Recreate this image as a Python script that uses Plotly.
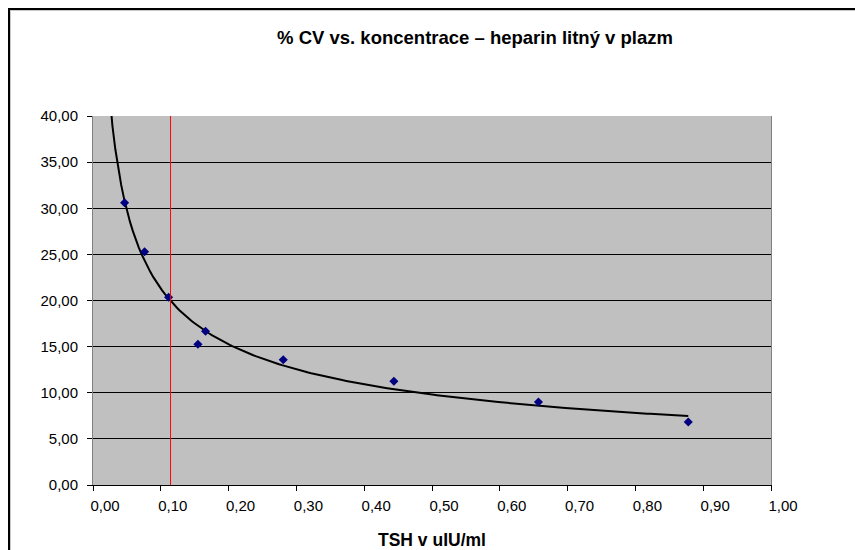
import numpy as np
import plotly.graph_objects as go

# data
tsh = [0.0466, 0.0761, 0.1115, 0.1548, 0.166, 0.2806, 0.4438, 0.657, 0.878]
cv = [30.60, 25.29, 20.35, 15.25, 16.66, 13.58, 11.24, 9.00, 6.83]
cutoff_x = [0.1144]
x_ticks = [0.0, 0.1, 0.2, 0.3, 0.4, 0.5, 0.6, 0.7, 0.8, 0.9, 1.0]
y_ticks = [0, 5, 10, 15, 20, 25, 30, 35, 40]
title_text = "% CV vs. koncentrace – heparin litný v plazm"
x_title = "TSH v uIU/ml"

# power trendline (as in Excel): fit in log-log space
b, ln_a = np.polyfit(np.log(tsh), np.log(cv), 1)
xs = np.linspace(0.02, max(tsh), 200)
ys = np.exp(ln_a) * xs ** b

FONT = "Liberation Sans, Arial, sans-serif"
W, H = 855, 550
L, R, T, B = 93, 84, 116, 65
pw = W - L - R
ph = H - T - B


def px_x(p):
    return (p - L) / pw


def px_y(p):
    return (H - B - p) / ph


fig = go.Figure()
fig.add_trace(go.Scatter(x=xs, y=ys, mode="lines",
                         line=dict(color="black", width=2), hoverinfo="skip"))
fig.add_trace(go.Scatter(x=tsh, y=cv, mode="markers",
                         marker=dict(symbol="diamond", size=7, color="#000080")))

fig.add_shape(type="line", xref="x", yref="y", x0=cutoff_x[0], x1=cutoff_x[0],
              y0=y_ticks[0], y1=y_ticks[-1], line=dict(color="red", width=1))

# outer chart border (extends beyond the picture on the right / bottom)
fig.add_shape(type="line", xref="paper", yref="paper",
              x0=px_x(8), x1=px_x(855), y0=px_y(9), y1=px_y(9),
              line=dict(color="black", width=2), layer="above")
fig.add_shape(type="line", xref="paper", yref="paper",
              x0=px_x(9), x1=px_x(9), y0=px_y(8), y1=px_y(550),
              line=dict(color="black", width=2), layer="above")

fig.add_annotation(text="<b>" + x_title + "</b>", xref="paper", yref="paper",
                   x=0.5, y=px_y(540), xanchor="center", yanchor="middle",
                   showarrow=False, font=dict(size=17.5, family=FONT, color="black"))

fig.update_layout(
    width=W, height=H,
    margin=dict(l=L, r=R, t=T, b=B, autoexpand=False),
    paper_bgcolor="white", plot_bgcolor="#C0C0C0",
    showlegend=False,
    separators=", ",
    font=dict(family=FONT, color="black"),
    title=dict(text="<b>" + title_text + "</b>", x=px_x(475), xref="paper",
               xanchor="center", y=1 - 38 / H, yref="container", yanchor="middle",
               font=dict(size=18.5, family=FONT, color="black")),
)
fig.update_xaxes(range=[0, 1], tickvals=x_ticks, tickformat=".2f", automargin=False,
                 showgrid=False, zeroline=False,
                 showline=True, linecolor="black", linewidth=1,
                 ticks="outside", ticklen=5, tickcolor="black",
                 tickfont=dict(size=15), ticklabelshift=12, ticklabelstandoff=2)
fig.update_yaxes(range=[0, 40], tickvals=y_ticks, tickformat=".2f", automargin=False,
                 showgrid=True, gridcolor="black", gridwidth=1, zeroline=False,
                 showline=True, linecolor="#808080", linewidth=1, mirror=True,
                 ticks="outside", ticklen=5, tickcolor="black",
                 tickfont=dict(size=15), ticklabelstandoff=6)

post = (
    "document.body.style.margin='0';document.body.style.overflow='hidden';"
    "var d=document.createElement('div');"
    "d.style.cssText='position:absolute;left:8px;top:8px;width:900px;height:600px;"
    "border-top:2px solid #000;border-left:2px solid #000;"
    "box-shadow:inset 1px 1px 0 #c8c8c8;pointer-events:none;';"
    "document.body.appendChild(d);"
)
fig.write_html("out.html", config={"displayModeBar": False}, post_script=post)
